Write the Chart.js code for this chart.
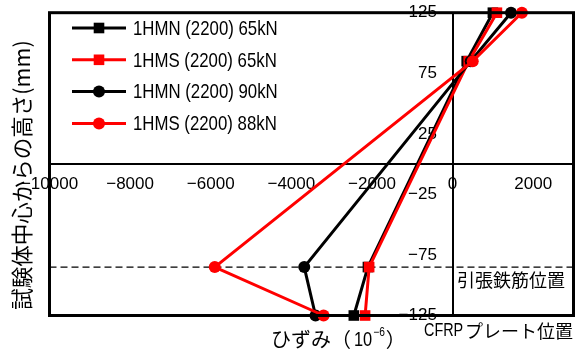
<!DOCTYPE html>
<html><head><meta charset="utf-8">
<script src="https://cdn.jsdelivr.net/npm/chart.js@4.4.1/dist/chart.umd.min.js"></script>
<style>html,body{margin:0;padding:0;background:#fff}#wrap{width:586px;height:353px;position:relative}</style>
</head><body><div id="wrap"><canvas id="c" width="586" height="353"></canvas></div>
<script>
// ---- data ----
const heights = [125, 85, -85, -125];
const seriesNames = ['1HMN (2200) 65kN', '1HMS (2200) 65kN', '1HMN (2200) 90kN', '1HMS (2200) 88kN'];
const hmn65 = [1000, 350, -2100, -2450];
const hms65 = [1100, 400, -2070, -2170];
const hmn90 = [1450, 450, -3680, -3400];
const hms88 = [1720, 500, -5900, -3200];
const xTickValues = [-10000, -8000, -6000, -4000, -2000, 0, 2000];
const xTickLabels = ['−10000', '−8000', '−6000', '−4000', '−2000', '0', '2000'];
const yTickValues = [-125, -75, -25, 25, 75, 125];
const yTickLabels = ['−125', '−75', '−25', '25', '75', '125'];
const rebarHeight = -85;
const xTitleA = 'ひずみ（';
const xTitleB = '10';
const xTitleSup = '−6';
const xTitleEnd = '）';
const yTitle = '試験体中心からの高さ(mm)';
const rebarLabel = '引張鉄筋位置';
const plateLabelA = 'CFRP';
const plateLabelB = 'プレート位置';

const SANS = '"Liberation Sans", Arial, sans-serif';
const JP = '"Noto Sans CJK JP", sans-serif';

const seriesValues = [hmn65, hms65, hmn90, hms88];
const colors = ['#000000', '#ff0000', '#000000', '#ff0000'];
const styles = ['rect', 'rect', 'circle', 'circle'];
const radii = [7.5, 7.5, 6, 6];

const datasets = seriesValues.map((vals, i) => ({
  label: seriesNames[i],
  data: vals.map((v, j) => ({x: v, y: heights[j]})),
  borderColor: colors[i],
  backgroundColor: colors[i],
  pointBackgroundColor: colors[i],
  pointBorderColor: colors[i],
  pointBorderWidth: 0,
  pointStyle: styles[i],
  pointRadius: radii[i],
  borderWidth: 3,
  tension: 0,
  fill: false,
  clip: false,
  order: seriesValues.length - i
}));

function narrowText(ctx, text, x, y, font, sx) {
  ctx.save();
  ctx.font = font;
  ctx.translate(x, y);
  ctx.scale(sx, 1);
  ctx.fillText(text, 0, 0);
  const w = ctx.measureText(text).width * sx;
  ctx.restore();
  return w;
}

const decor = {
  id: 'decor',
  beforeDatasetsDraw(chart) {
    const {ctx, chartArea: a, scales: {y}} = chart;
    const yp = y.getPixelForValue(rebarHeight);
    ctx.save();
    ctx.strokeStyle = '#000';
    ctx.lineWidth = 1.3;
    ctx.setLineDash([7, 4]);
    ctx.beginPath();
    ctx.moveTo(a.left, yp);
    ctx.lineTo(a.right, yp);
    ctx.stroke();
    ctx.restore();
  },
  afterDraw(chart) {
    const {ctx, chartArea: a} = chart;
    ctx.save();
    // frame
    ctx.strokeStyle = '#000';
    ctx.lineWidth = 3;
    ctx.strokeRect(a.left, a.top, a.right - a.left, a.bottom - a.top);
    // legend
    ctx.textAlign = 'left';
    ctx.textBaseline = 'middle';
    chart.data.datasets.forEach((ds, i) => {
      const yy = 28 + i * 31.8;
      ctx.strokeStyle = ds.borderColor;
      ctx.lineWidth = 3;
      ctx.beginPath();
      ctx.moveTo(72, yy);
      ctx.lineTo(126, yy);
      ctx.stroke();
      ctx.fillStyle = ds.pointBackgroundColor;
      Chart.helpers.drawPoint(ctx, {pointStyle: ds.pointStyle, radius: ds.pointRadius, rotation: 0, borderWidth: 0}, 99, yy);
      ctx.fillStyle = '#000';
      narrowText(ctx, ds.label, 133, yy + 1, '21px ' + SANS, 0.80);
    });
    // y title
    ctx.fillStyle = '#000';
    ctx.save();
    ctx.translate(22, 175);
    ctx.rotate(-Math.PI / 2);
    ctx.font = '21.5px ' + JP;
    ctx.textAlign = 'center';
    ctx.textBaseline = 'middle';
    ctx.fillText(yTitle, 0, 0);
    ctx.restore();
    // x title
    ctx.textAlign = 'left';
    ctx.textBaseline = 'middle';
    ctx.font = '20px ' + JP;
    let x = 271;
    ctx.fillText(xTitleA, x, 339);
    x += ctx.measureText(xTitleA).width;
    x += narrowText(ctx, xTitleB, x + 3, 340, '20px ' + SANS, 0.82) + 3;
    x += narrowText(ctx, xTitleSup, x + 1, 333, '12px ' + SANS, 0.85) + 1;
    ctx.font = '20px ' + JP;
    ctx.fillText(xTitleEnd, x + 1, 339);
    // annotations
    ctx.font = '18px ' + JP;
    ctx.fillText(rebarLabel, 457, 280);
    narrowText(ctx, plateLabelA, 424, 331, '18px ' + SANS, 0.8);
    ctx.font = '18px ' + JP;
    ctx.fillText(plateLabelB, 465, 331);
    ctx.restore();
  }
};

new Chart(document.getElementById('c'), {
  type: 'line',
  data: {datasets},
  options: {
    responsive: false,
    devicePixelRatio: 1,
    animation: false,
    layout: {padding: {left: 49.5, top: 12.7, right: 12.5, bottom: 37.5}},
    plugins: {legend: {display: false}, tooltip: {enabled: false}},
    scales: {
      x: {
        type: 'linear', min: -10000, max: 3000,
        position: {y: 0},
        grid: {
          display: true, drawTicks: false, lineWidth: 2,
          color: c => (c.tick && c.tick.value === 0) ? '#000000' : 'rgba(0,0,0,0)'
        },
        border: {display: true, color: '#000', width: 2},
        afterBuildTicks: s => { s.ticks = xTickValues.map(v => ({value: v})); },
        ticks: {
          padding: 10, color: '#000', maxRotation: 0, autoSkip: false,
          font: {family: SANS, size: 17},
          callback: v => { const k = xTickValues.indexOf(v); return k >= 0 ? xTickLabels[k] : ''; }
        }
      },
      y: {
        type: 'linear', min: -125, max: 125,
        position: {x: -390},
        grid: {display: false, drawTicks: false},
        border: {display: false},
        afterBuildTicks: s => { s.ticks = yTickValues.map(v => ({value: v})); },
        ticks: {
          padding: 0, color: '#000', autoSkip: false,
          font: {family: SANS, size: 17},
          callback: v => { const k = yTickValues.indexOf(v); return k >= 0 ? yTickLabels[k] : ''; }
        }
      }
    }
  },
  plugins: [decor]
});
</script></body></html>
